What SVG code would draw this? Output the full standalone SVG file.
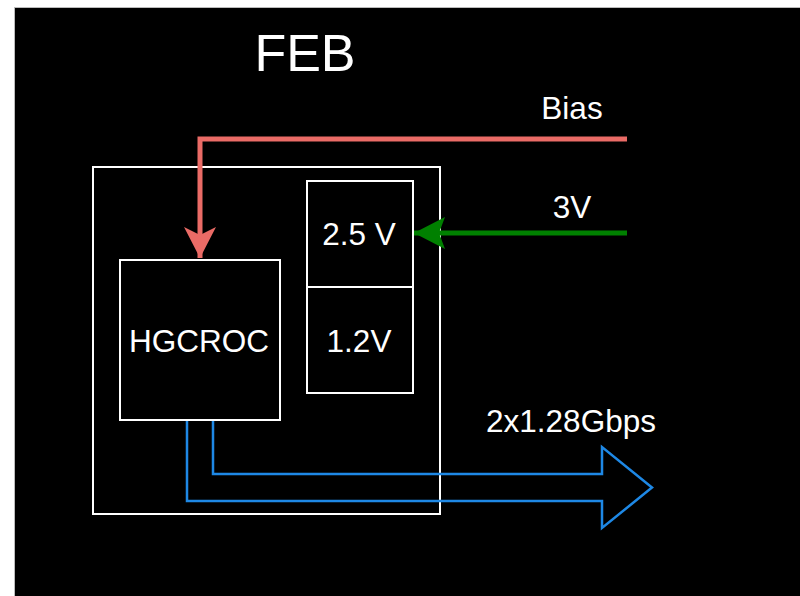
<svg xmlns="http://www.w3.org/2000/svg" width="800" height="596" viewBox="0 0 800 596">
<style>
.box{fill:none;stroke:#ffffff;stroke-width:2}
.t{font-family:"Liberation Sans",Arial,sans-serif;fill:#ffffff;font-size:31.5px;text-anchor:middle}
</style>
<defs>
<marker id="redHead" markerUnits="userSpaceOnUse" viewBox="0 0 34 32" refX="31" refY="16" markerWidth="34" markerHeight="32" orient="auto">
<path d="M31,16 L0,0 L8,16 L0,32 Z" fill="#EA6B66"/>
</marker>
<marker id="greenHead" markerUnits="userSpaceOnUse" viewBox="0 0 34 32" refX="31" refY="16" markerWidth="34" markerHeight="32" orient="auto">
<path d="M31,16 L0,0 L6,16 L0,32 Z" fill="#008000"/>
</marker>
</defs>
<rect x="0" y="0" width="800" height="596" fill="#ffffff"/>
<rect x="14.5" y="7.5" width="790" height="595" fill="#000000" stroke="#bbbbbb" stroke-width="1"/>
<text class="t" x="305" y="71" style="font-size:52px">FEB</text>
<g id="feb">
<rect class="box" x="93" y="167" width="347" height="347"/>
</g>
<g id="hgcroc">
<rect class="box" x="120" y="260" width="160" height="160"/>
<text class="t" x="199" y="352">HGCROC</text>
</g>
<g id="reg25">
<rect class="box" x="307" y="181" width="106" height="106"/>
<text class="t" x="359" y="245">2.5 V</text>
</g>
<g id="reg12">
<rect class="box" x="307" y="287" width="106" height="106"/>
<text class="t" x="359" y="352">1.2V</text>
</g>
<g id="connectors">
<path d="M627,139 H200 V258" fill="none" stroke="#EA6B66" stroke-width="5" marker-end="url(#redHead)"/>
<path d="M627,233 H414" fill="none" stroke="#008000" stroke-width="5" marker-end="url(#greenHead)"/>
<path d="M187,421 V501 H602 V528 L652,487.5 L602,447 V474 H213 V421" fill="none" stroke="#1E88E5" stroke-width="2.5" stroke-linejoin="miter"/>
</g>
<text class="t" x="572" y="119">Bias</text>
<text class="t" x="572" y="218">3V</text>
<text class="t" x="571" y="432">2x1.28Gbps</text>
</svg>
